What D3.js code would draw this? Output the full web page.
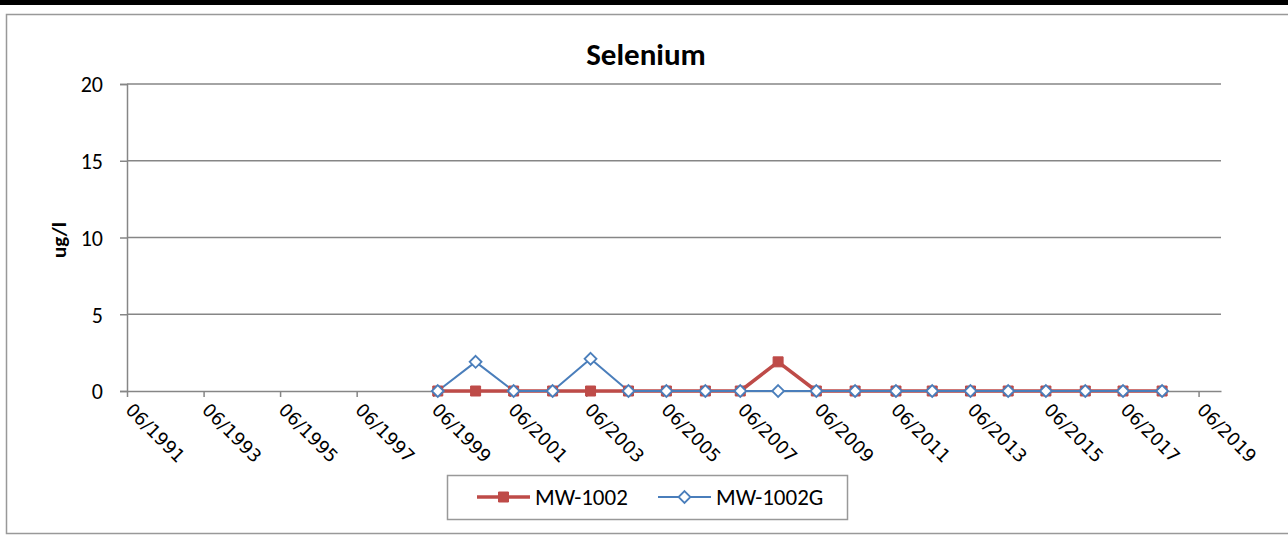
<!DOCTYPE html>
<html lang="en">
<head>
<meta charset="UTF-8">
<title>Selenium</title>
<style>
    * { margin: 0; padding: 0; }
    body { background: #fff; width: 1288px; height: 535px; overflow: hidden; }
    svg { display: block; font-family: Carlito, Calibri, Lato, sans-serif; }
</style>
</head>
<body>
<div id="container"></div>
<script src="https://cdn.jsdelivr.net/npm/d3@7"></script>
<script>
"use strict";

// sample dates (YYYY-MM-DD)
var sampleDates = ["1999-07-15", "2000-07-10", "2001-07-08", "2002-07-15", "2003-07-12",
    "2004-07-08", "2005-07-05", "2006-07-12", "2007-06-10", "2008-06-05",
    "2009-06-05", "2010-06-10", "2011-07-05", "2012-06-15", "2013-06-15",
    "2014-06-10", "2015-06-05", "2016-06-15", "2017-06-10", "2018-06-18"];
var mw1002 = [0, 0, 0, 0, 0, 0, 0, 0, 0, 1.9, 0, 0, 0, 0, 0, 0, 0, 0, 0, 0];
var mw1002g = [0, 1.9, 0, 0, 2.1, 0, 0, 0, 0, 0, 0, 0, 0, 0, 0, 0, 0, 0, 0, 0];
var seriesNames = ["MW-1002", "MW-1002G"];
var yTicks = [0, 5, 10, 15, 20];
var xTickYears = d3.range(1991, 2020, 2);

var W = 1288, H = 535;
var plot = { left: 127, right: 1221, top: 84, bottom: 391 };
var red = "#BE4B48", blue = "#4A7EBB", grid = "#868686";

var parse = d3.timeParse("%Y-%m-%d");
var fmt = d3.timeFormat("%m/%Y");

var svg = d3.select("#container").append("svg")
    .attr("width", W).attr("height", H);

// top black band and chart frame
svg.append("rect").attr("x", 0).attr("y", 0).attr("width", W).attr("height", 5).attr("fill", "#000");
svg.append("rect").attr("x", 6.5).attr("y", 14.5).attr("width", W).attr("height", 519)
    .attr("fill", "none").attr("stroke", "#999").attr("stroke-width", 1.5);

var x = d3.scaleTime()
    .domain([new Date(1991, 5, 1), new Date(2020, 0, 1)])
    .range([plot.left, plot.right]);
var y = d3.scaleLinear().domain([0, 20]).range([plot.bottom, plot.top]);

// gridlines
svg.append("g").selectAll("line").data(yTicks.filter(function (d) { return d > 0; }))
    .enter().append("line")
    .attr("x1", plot.left).attr("x2", plot.right)
    .attr("y1", function (d) { return y(d); }).attr("y2", function (d) { return y(d); })
    .attr("stroke", grid).attr("stroke-width", 1.5);

// y axis
var yAxis = svg.append("g")
    .attr("transform", "translate(" + plot.left + ",0)")
    .call(d3.axisLeft(y).tickValues(yTicks).tickSize(7).tickPadding(17));
yAxis.select(".domain").attr("stroke", grid).attr("stroke-width", 1.5);
yAxis.selectAll(".tick line").attr("stroke", grid).attr("stroke-width", 1.5);
yAxis.selectAll("text").attr("font-size", 22).attr("fill", "#000")
    .attr("font-family", "Carlito, Calibri, Lato, sans-serif").attr("dy", "0.36em");

// x axis
var xTicks = xTickYears.map(function (yr) { return new Date(yr, 5, 1); });
var xAxis = svg.append("g")
    .attr("transform", "translate(0," + plot.bottom + ")")
    .call(d3.axisBottom(x).tickValues(xTicks).tickSize(6).tickSizeOuter(0).tickFormat(fmt));
xAxis.select(".domain").attr("stroke", grid).attr("stroke-width", 1.5);
xAxis.selectAll(".tick line").attr("stroke", grid).attr("stroke-width", 1.5);
xAxis.selectAll("text")
    .attr("font-size", 18).attr("fill", "#000")
    .attr("font-family", "'DejaVu Sans', Verdana, sans-serif")
    .attr("text-anchor", "start")
    .attr("dy", null).attr("y", 0).attr("x", 0)
    .attr("transform", "translate(-3,20) rotate(45)");

// title & axis label
svg.append("text").attr("x", 646).attr("y", 65).attr("text-anchor", "middle")
    .attr("font-size", 31).attr("font-weight", "bold").text("Selenium");
svg.append("text").attr("transform", "translate(66,240) rotate(-90)")
    .attr("text-anchor", "middle").attr("font-size", 21).attr("font-weight", "bold").text("ug/l");

// series
var dates = sampleDates.map(parse);
var series = [
    { name: seriesNames[0], values: mw1002, color: red, width: 3.5 },
    { name: seriesNames[1], values: mw1002g, color: blue, width: 2 }
];
var line = d3.line()
    .x(function (d) { return x(d.date); })
    .y(function (d) { return y(d.value); });

series.forEach(function (s) {
    var pts = dates.map(function (dt, i) { return { date: dt, value: s.values[i] }; });
    svg.append("path").datum(pts)
        .attr("d", line).attr("fill", "none")
        .attr("stroke", s.color).attr("stroke-width", s.width).attr("stroke-linejoin", "round");
    s.pts = pts;
});

var square = d3.symbol().type(d3.symbolSquare).size(100);
var diamond = d3.symbol().type(d3.symbolDiamond2).size(90);

svg.append("g").selectAll("path").data(series[0].pts).enter().append("path")
    .attr("d", square)
    .attr("transform", function (d) { return "translate(" + x(d.date) + "," + y(d.value) + ")"; })
    .attr("fill", red).attr("stroke", red).attr("stroke-width", 1);

svg.append("g").selectAll("path").data(series[1].pts).enter().append("path")
    .attr("d", diamond)
    .attr("transform", function (d) { return "translate(" + x(d.date) + "," + y(d.value) + ")"; })
    .attr("fill", "#fff").attr("stroke", blue).attr("stroke-width", 1.8);

// legend
var lg = svg.append("g");
lg.append("rect").attr("x", 447.5).attr("y", 475.5).attr("width", 400).attr("height", 44)
    .attr("fill", "#fff").attr("stroke", "#999").attr("stroke-width", 1.5);
var legendItems = [
    { s: series[0], x0: 477, sym: square },
    { s: series[1], x0: 658, sym: diamond }
];
legendItems.forEach(function (it) {
    lg.append("line").attr("x1", it.x0).attr("x2", it.x0 + 53).attr("y1", 497).attr("y2", 497)
        .attr("stroke", it.s.color).attr("stroke-width", it.s.width);
    lg.append("path").attr("d", it.sym)
        .attr("transform", "translate(" + (it.x0 + 26.5) + ",497)")
        .attr("fill", it.s === series[0] ? red : "#fff")
        .attr("stroke", it.s.color).attr("stroke-width", it.s === series[0] ? 1 : 1.8);
    lg.append("text").attr("x", it.x0 + 58).attr("y", 505).attr("font-size", 23)
        .text(it.s.name);
});
</script>
</body>
</html>
